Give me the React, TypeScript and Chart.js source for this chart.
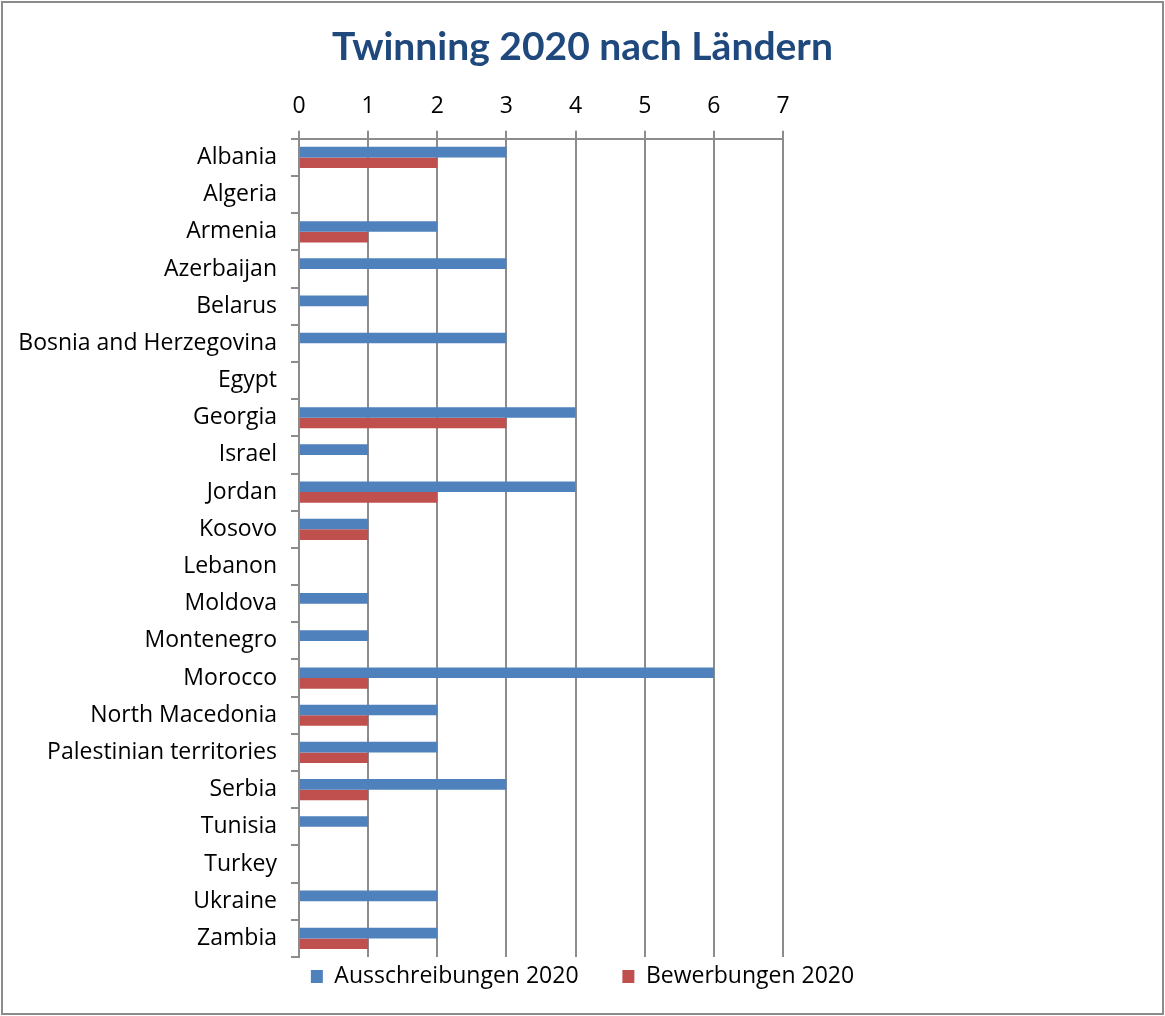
import React, { useEffect, useRef } from "react";
import { Chart, registerables } from "chart.js";

Chart.register(...registerables);

const countries = [
  "Albania", "Algeria", "Armenia", "Azerbaijan", "Belarus", "Bosnia and Herzegovina",
  "Egypt", "Georgia", "Israel", "Jordan", "Kosovo", "Lebanon", "Moldova", "Montenegro",
  "Morocco", "North Macedonia", "Palestinian territories", "Serbia", "Tunisia", "Turkey",
  "Ukraine", "Zambia",
];
const ausschreibungen = [3, 0, 2, 3, 1, 3, 0, 4, 1, 4, 1, 0, 1, 1, 6, 2, 2, 3, 1, 0, 2, 2];
const bewerbungen = [2, 0, 1, 0, 0, 0, 0, 3, 0, 2, 1, 0, 0, 0, 1, 1, 1, 1, 0, 0, 0, 1];
const xMin = 0;
const xMax = 7;

const FONT = "'Open Sans', 'Noto Sans', sans-serif";
const TITLE_FONT = "Lato, 'Noto Sans', sans-serif";

const frame = {
  id: "frame",
  beforeDraw(chart: any) {
    const { ctx, width, height } = chart;
    ctx.save();
    ctx.fillStyle = "#ffffff";
    ctx.fillRect(0, 0, width, height);
    ctx.strokeStyle = "#8c8c8c";
    ctx.lineWidth = 2;
    ctx.strokeRect(2, 2, width - 4, height - 4);
    ctx.restore();
  },
};

export default function App() {
  const ref = useRef<HTMLCanvasElement | null>(null);
  useEffect(() => {
    if (!ref.current) return;
    const chart = new Chart(ref.current, {
      type: "bar",
      data: {
        labels: countries,
        datasets: [
          { label: "Ausschreibungen 2020", data: ausschreibungen, backgroundColor: "#4f81bd" },
          { label: "Bewerbungen 2020", data: bewerbungen, backgroundColor: "#c0504d" },
        ],
      },
      options: {
        indexAxis: "y",
        animation: false,
        responsive: false,
        layout: { padding: { left: 0, right: 0, top: 0, bottom: 18 } },
        datasets: { bar: { barPercentage: 1, categoryPercentage: 0.57 } },
        plugins: {
          title: {
            display: true,
            text: "Twinning 2020 nach Ländern",
            color: "#1f497d",
            font: { family: TITLE_FONT, size: 39, weight: "bold" },
            padding: { top: 24, bottom: 8 },
          },
          legend: {
            position: "bottom",
            labels: {
              color: "#000",
              font: { family: FONT, size: 23 },
              boxWidth: 12,
              boxHeight: 13,
              padding: 8,
              generateLabels(c: any) {
                const items = Chart.defaults.plugins.legend.labels.generateLabels(c);
                return items.map((it: any, i: number) =>
                  i < items.length - 1 ? { ...it, text: it.text + "      " } : it
                );
              },
            },
          },
          tooltip: { enabled: false },
        },
        scales: {
          x: {
            position: "top",
            min: xMin,
            max: xMax,
            ticks: { stepSize: 1, color: "#000", font: { family: FONT, size: 23 }, padding: 11 },
            grid: { color: "#8c8c8c", lineWidth: 2, tickLength: 8 },
            border: { color: "#8c8c8c", width: 2 },
            afterFit(scale: any) { scale.height = 60; },
          },
          y: {
            ticks: { color: "#000", font: { family: FONT, size: 23 }, padding: 14, autoSkip: false },
            grid: { drawOnChartArea: false, color: "#8c8c8c", lineWidth: 2, tickLength: 8 },
            border: { color: "#8c8c8c", width: 2 },
            afterFit(scale: any) { scale.width = 299; },
          },
          yRightSpace: {
            type: "category",
            position: "right",
            display: true,
            ticks: { display: false },
            grid: { display: false },
            border: { display: false },
            afterFit(scale: any) { scale.width = 382; },
          },
        },
      },
      plugins: [frame],
    });
    return () => chart.destroy();
  }, []);
  return (
    <div style={{ position: "absolute", left: 0, top: 0, width: 1165, height: 1016 }}>
      <canvas ref={ref} width={1165} height={1016} style={{ width: 1165, height: 1016 }} />
    </div>
  );
}
